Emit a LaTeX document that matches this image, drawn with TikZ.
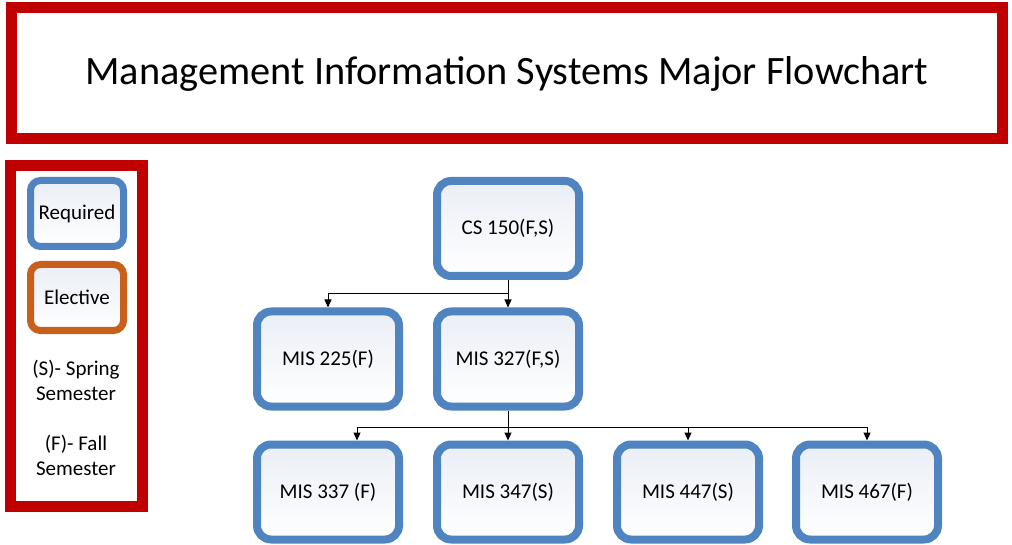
\documentclass[tikz,border=0pt]{standalone}
\usepackage{fontspec}
\setmainfont{Carlito}
\usetikzlibrary{arrows.meta, calc}
\definecolor{mfInk}{HTML}{000000}
\definecolor{mfFrame}{HTML}{C00000}
\definecolor{mfReq}{HTML}{4F84C0}
\definecolor{mfElec}{HTML}{C8601C}
\definecolor{mfFill}{HTML}{EAEEF6}
\tikzset{
  mfframe/.style={
    draw=mfFrame, fill=white, line width=11pt, inner sep=0pt,
  },
  mfcourse/.style={
    draw=mfReq, line width=8pt, rounded corners=14pt,
    top color=mfFill, bottom color=white,
    minimum width=142pt, minimum height=95pt,
    text=mfInk, font=\fontsize{21}{25}\selectfont,
  },
  mfkey/.style={
    draw=#1, line width=7pt, rounded corners=10pt,
    top color=mfFill, bottom color=white,
    minimum width=93pt, minimum height=66pt,
    text=mfInk, font=\fontsize{21}{25}\selectfont,
  },
  mfnote/.style={
    align=center, text=mfInk, font=\fontsize{21}{25}\selectfont,
  },
  mfarrow/.style={
    -{Triangle[length=8pt, width=7pt]}, draw=mfInk, line width=1pt,
  },
}
\newcommand{\mfcourse}[3]{%
  \node[mfcourse] (#1) at (#2) {#3};%
}

\begin{document}
\begin{tikzpicture}[x=1pt, y=-1pt]
\useasboundingbox (0,0) rectangle (1012,545);

% Title -------------------------------------------------------------------
\node[mfframe, minimum width=991pt, minimum height=131pt,
  font=\fontsize{40.3}{48}\selectfont] (title) at (507,73.5)
  {Management Information Systems Major Flowchart};

% Legend ------------------------------------------------------------------
\node[mfframe, minimum width=132pt, minimum height=341pt] (legend) at (76.5,336) {};
\node[mfkey=mfReq] (keyreq) at (77,213.5) {Required};
\node[mfkey=mfElec] (keyelec) at (77,297.5) {Elective};
\node[mfnote] (spring) at (76,380) {(S)- Spring\\Semester};
\node[mfnote] (fall) at (76,455.5) {(F)- Fall\\Semester};

% Courses -----------------------------------------------------------------
\mfcourse{cs150}{508,228.5}{CS 150(F,S)}
\mfcourse{mis225}{328,359}{MIS 225(F)}
\mfcourse{mis327}{508,359}{MIS 327(F,S)}
\mfcourse{mis337}{328,492}{MIS 337 (F)}
\mfcourse{mis347}{508,492}{MIS 347(S)}
\mfcourse{mis447}{688,492}{MIS 447(S)}
\mfcourse{mis467}{867,492}{MIS 467(F)}

% Flow --------------------------------------------------------------------
\coordinate (fork1) at ($(cs150.south)+(0,14)$);
\draw[mfarrow] (cs150.south) -- (mis327.north);
\draw[mfarrow] (fork1) -| (mis225.north);

\coordinate (fork2) at ($(mis327.south)+(0,17)$);
\draw[mfarrow] (mis327.south) -- (mis347.north);
\draw[mfarrow] (fork2) -| ($(mis337.north)+(29,0)$);
\foreach \c in {mis447, mis467}{%
  \draw[mfarrow] (fork2) -| (\c.north);
}

\end{tikzpicture}
\end{document}
